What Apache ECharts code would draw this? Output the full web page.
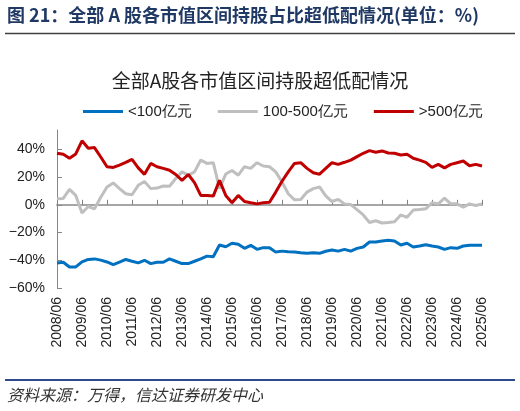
<!DOCTYPE html>
<html>
<head>
<meta charset="utf-8">
<script src="https://cdn.jsdelivr.net/npm/echarts@6/dist/echarts.min.js"></script>
<style>
  html, body { margin: 0; padding: 0; background: #fff; }
  #chart { width: 520px; height: 411px; }
</style>
</head>
<body>
<div id="chart"></div>
<script>
// quarterly dates, 2008/06 .. 2025/06
const categories = [
  "2008/06","2008/09","2008/12","2009/03","2009/06","2009/09","2009/12","2010/03",
  "2010/06","2010/09","2010/12","2011/03","2011/06","2011/09","2011/12","2012/03",
  "2012/06","2012/09","2012/12","2013/03","2013/06","2013/09","2013/12","2014/03",
  "2014/06","2014/09","2014/12","2015/03","2015/06","2015/09","2015/12","2016/03",
  "2016/06","2016/09","2016/12","2017/03","2017/06","2017/09","2017/12","2018/03",
  "2018/06","2018/09","2018/12","2019/03","2019/06","2019/09","2019/12","2020/03",
  "2020/06","2020/09","2020/12","2021/03","2021/06","2021/09","2021/12","2022/03",
  "2022/06","2022/09","2022/12","2023/03","2023/06","2023/09","2023/12","2024/03",
  "2024/06","2024/09","2024/12","2025/03","2025/06"
];

const small = [
  -41.9,-41.4,-44.8,-44.8,-41.2,-39.4,-39.0,-39.9,-41.2,-43.1,-41.4,-39.4,-40.7,-41.9,-40.0,-42.4,
  -41.4,-41.4,-39.0,-40.7,-42.4,-42.4,-40.7,-39.0,-37.0,-37.5,-29.0,-30.2,-27.7,-28.5,-31.4,-29.2,
  -32.1,-30.9,-30.9,-34.1,-33.4,-33.9,-34.1,-34.6,-35.0,-34.6,-35.0,-33.5,-32.6,-33.4,-32.1,-33.4,
  -31.4,-30.4,-26.8,-26.8,-26.1,-25.6,-26.1,-29.0,-27.7,-30.4,-29.7,-28.8,-29.7,-30.4,-32.1,-30.9,
  -31.4,-29.7,-29.2,-29.2,-29.2
];

const middle = [
  4.4,4.6,11.2,6.8,-5.9,-1.2,-2.9,5.5,12.9,15.8,11.7,8.0,7.3,14.1,16.8,11.7,
  12.1,13.6,13.4,19.0,23.8,21.4,23.8,32.3,29.9,30.4,11.7,22.2,24.8,21.4,27.5,26.3,
  30.4,28.0,27.5,23.8,16.5,8.0,3.6,3.9,9.2,11.7,12.9,6.5,2.4,3.9,0.7,0.2,
  -3.4,-7.3,-12.7,-11.5,-13.1,-12.7,-12.2,-7.3,-9.0,-3.8,-3.4,-2.9,1.5,0.7,4.8,0.7,
  0.7,-1.7,0.7,-0.5,0.7
];

const large = [
  37.2,36.5,33.6,36.7,46.2,40.9,41.3,34.5,27.5,27.0,28.7,30.6,32.8,26.7,22.0,29.9,
  27.5,26.3,25.0,21.9,17.7,21.9,16.0,6.8,6.8,6.3,17.7,6.8,1.5,6.8,2.4,1.5,
  0.7,1.5,1.9,9.2,17.0,23.8,29.9,30.4,26.3,23.1,22.1,26.3,30.4,29.2,30.7,32.3,
  34.8,37.2,39.1,38.0,38.9,37.4,37.2,36.0,36.5,33.6,32.3,30.7,27.0,29.2,26.7,29.2,
  30.4,31.6,28.2,29.2,28.0
];

const seriesNames = ["<100亿元", "100-500亿元", ">500亿元"];
const yTicks = [-60, -40, -20, 0, 20, 40];

const cjk = '"Noto Sans CJK SC", "Noto Sans", sans-serif';
const latin = '"Liberation Sans", Arial, sans-serif';

const chart = echarts.init(document.getElementById("chart"));

const lineSeries = (name, data, color) => ({
  name: name,
  type: "line",
  xAxisIndex: 0,
  yAxisIndex: 0,
  data: data,
  symbol: "none",
  lineStyle: { color: color, width: 3 },
  itemStyle: { color: color },
  animation: false
});

chart.setOption({
  animation: false,
  title: {
    text: "全部A股各市值区间持股超低配情况",
    left: "center",
    top: 66,
    textStyle: { fontFamily: cjk, fontSize: 19, fontWeight: "normal", color: "#222" }
  },
  legend: {
    top: 99,
    left: 78,
    icon: "rect",
    itemWidth: 40,
    itemHeight: 3,
    itemGap: 26,
    textStyle: { fontFamily: latin, fontSize: 15, color: "#222" },
    data: seriesNames
  },
  grid: { left: 57, right: 38, top: 130, bottom: 123 },
  xAxis: [
    {
      // zero line with the yearly ticks
      type: "category",
      data: categories,
      boundaryGap: false,
      position: "bottom",
      axisLine: { onZero: true, lineStyle: { color: "#a6a6a6", width: 2 } },
      axisTick: { show: true, inside: true, length: 5, interval: 3, lineStyle: { color: "#808080" } },
      axisLabel: { show: false },
      splitLine: { show: false }
    },
    {
      // labels stay at the bottom of the plot
      type: "category",
      data: categories,
      boundaryGap: false,
      position: "bottom",
      axisLine: { show: false, onZero: false },
      axisTick: { show: false },
      axisLabel: {
        interval: 3,
        rotate: 90,
        margin: 9,
        fontFamily: latin,
        fontSize: 14,
        color: "#222"
      },
      splitLine: { show: false }
    }
  ],
  yAxis: {
    type: "value",
    min: -60,
    max: 54,
    interval: 20,
    axisLine: { show: true, lineStyle: { color: "#868686", width: 1 } },
    axisTick: { show: true, inside: true, length: 5, customValues: yTicks, lineStyle: { color: "#868686" } },
    axisLabel: {
      customValues: yTicks,
      formatter: (v) => (v + "%").replace("-", "\u2212"),
      margin: 12,
      fontFamily: latin,
      fontSize: 14,
      color: "#222"
    },
    splitLine: { show: false }
  },
  series: [
    lineSeries(seriesNames[0], small, "#0070c0"),
    lineSeries(seriesNames[1], middle, "#bfbfbf"),
    lineSeries(seriesNames[2], large, "#c00000")
  ],
  graphic: [
    {
      type: "text",
      left: 7,
      top: 6,
      style: {
        text: "图 21：全部 A 股各市值区间持股占比超低配情况(单位：%)",
        font: 'bold 18px "Noto Sans CJK SC", sans-serif',
        fill: "#1f3864"
      }
    },
    {
      type: "line",
      shape: { x1: 5, y1: 33.5, x2: 515, y2: 33.5 },
      style: { stroke: "#404040", lineWidth: 1.5 }
    },
    {
      type: "line",
      shape: { x1: 5, y1: 380, x2: 515, y2: 380 },
      style: { stroke: "#2e4a8a", lineWidth: 2 }
    },
    {
      type: "text",
      left: 7,
      top: 387,
      style: {
        text: "资料来源：万得，信达证券研发中心",
        font: 'italic 16px "Noto Sans CJK SC", sans-serif',
        fill: "#333"
      }
    }
  ]
});
</script>
</body>
</html>
